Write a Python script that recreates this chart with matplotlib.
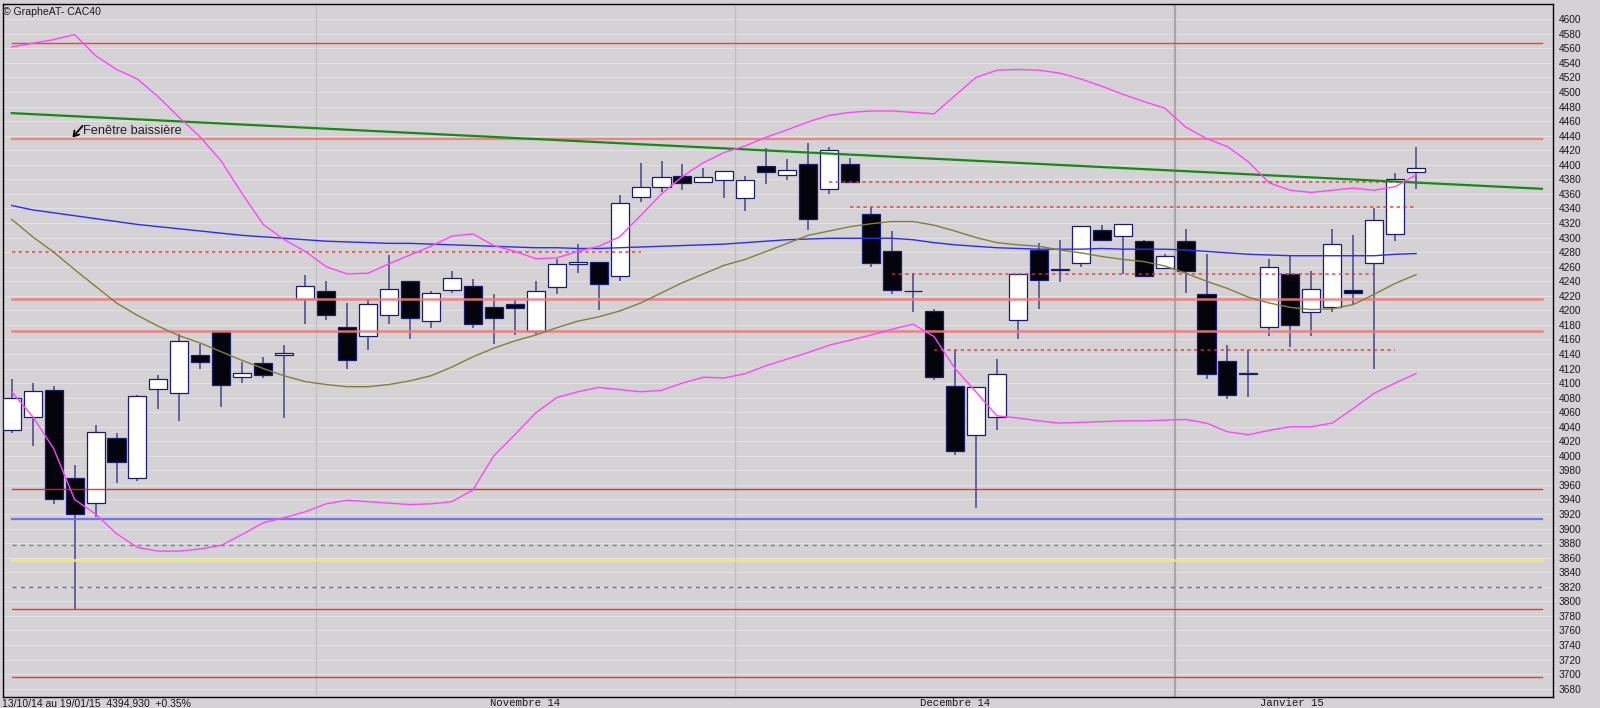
import numpy as np
import matplotlib
matplotlib.use('Agg')
import matplotlib.pyplot as plt

plt.rcParams['font.family'] = ['Liberation Sans', 'DejaVu Sans']

# daily candles, 13/10/14 -> 19/01/15 (index = trading day)
opens = [4035, 4054, 4091, 3969, 3935, 4024, 3970, 4092, 4086, 4138,
         4172, 4108, 4128, 4138, 4215, 4227, 4177, 4164, 4193, 4240,
         4185, 4228, 4233, 4204, 4209, 4171, 4232, 4264, 4266, 4247,
         4356, 4370, 4384, 4376, 4379, 4355, 4398, 4386, 4401, 4367,
         4401, 4333, 4281, 4227, 4199, 4096, 4028, 4053, 4187, 4283,
         4256, 4265, 4310, 4302, 4295, 4258, 4295, 4223, 4131, 4114,
         4177, 4250, 4197, 4205, 4228, 4265, 4305, 4390]
highs = [4106, 4100, 4096, 3988, 4042, 4031, 4084, 4111, 4168, 4153,
         4172, 4129, 4136, 4152, 4249, 4240, 4210, 4216, 4276, 4240,
         4227, 4254, 4243, 4222, 4214, 4240, 4270, 4291, 4266, 4358,
         4402, 4405, 4401, 4396, 4391, 4385, 4423, 4408, 4430, 4424,
         4410, 4342, 4309, 4251, 4202, 4145, 4095, 4133, 4250, 4292,
         4297, 4316, 4317, 4318, 4297, 4277, 4312, 4278, 4152, 4145,
         4271, 4274, 4254, 4312, 4304, 4341, 4389, 4425]
lows = [4031, 4014, 3934, 3790, 3916, 3963, 3966, 4064, 4048, 4119,
        4067, 4100, 4107, 4052, 4181, 4186, 4119, 4146, 4181, 4161,
        4175, 4224, 4176, 4154, 4166, 4168, 4223, 4251, 4201, 4240,
        4349, 4362, 4365, 4376, 4354, 4336, 4373, 4379, 4311, 4360,
        4376, 4260, 4223, 4197, 4104, 4001, 3928, 4035, 4160, 4202,
        4239, 4260, 4296, 4250, 4247, 4258, 4224, 4106, 4078, 4081,
        4165, 4150, 4165, 4198, 4208, 4120, 4295, 4367]
closes = [4080, 4089, 3940, 3920, 4033, 3991, 4082, 4106, 4158, 4129,
          4098, 4114, 4111, 4142, 4234, 4194, 4132, 4209, 4229, 4190,
          4224, 4245, 4181, 4189, 4203, 4227, 4263, 4267, 4236, 4348,
          4369, 4383, 4375, 4383, 4391, 4379, 4390, 4393, 4325, 4421,
          4376, 4265, 4228, 4226, 4109, 4006, 4094, 4113, 4250, 4242,
          4255, 4316, 4296, 4318, 4247, 4274, 4254, 4112, 4084, 4113,
          4260, 4180, 4229, 4291, 4224, 4324, 4380, 4395]

# indicators, one value per candle
upper_band = [4562, 4567, 4572, 4579, 4550, 4531, 4518, 4493, 4465, 4438,
              4405, 4360, 4318, 4297, 4281, 4260, 4250, 4251, 4264, 4276,
              4288, 4302, 4305, 4289, 4281, 4271, 4272, 4281, 4288, 4301,
              4330, 4360, 4384, 4403, 4417, 4426, 4438, 4448, 4459, 4468,
              4472, 4474, 4474, 4472, 4470, 4495, 4520, 4530, 4531, 4530,
              4526, 4518, 4508, 4497, 4487, 4478, 4452, 4436, 4425, 4404,
              4375, 4365, 4362, 4365, 4368, 4365, 4370, 4386]
lower_band = [4088, 4054, 4010, 3940, 3920, 3893, 3874, 3869, 3869, 3872,
              3877, 3892, 3908, 3915, 3923, 3934, 3939, 3937, 3935, 3933,
              3934, 3937, 3953, 4000, 4029, 4059, 4080, 4088, 4094, 4091,
              4088, 4090, 4100, 4108, 4107, 4113, 4124, 4133, 4142, 4152,
              4159, 4166, 4174, 4181, 4164, 4120, 4088, 4055, 4052, 4048,
              4045, 4046, 4047, 4048, 4048, 4049, 4050, 4045, 4033, 4029,
              4035, 4040, 4040, 4045, 4065, 4086, 4100, 4113]
ma_short = [4325, 4301, 4280, 4256, 4233, 4210, 4193, 4178, 4165, 4155,
            4143, 4131, 4120, 4110, 4102, 4098, 4095, 4095, 4098, 4103,
            4110, 4122, 4136, 4148, 4158, 4166, 4176, 4185, 4191, 4199,
            4210, 4224, 4238, 4250, 4262, 4270, 4281, 4292, 4303, 4309,
            4315, 4319, 4322, 4322, 4317, 4309, 4300, 4293, 4290, 4288,
            4283, 4279, 4274, 4270, 4267, 4261, 4251, 4240, 4230, 4218,
            4210, 4204, 4201, 4202, 4208, 4222, 4237, 4249]
ma_long = [4344, 4338, 4334, 4330, 4326, 4322, 4318, 4315, 4312, 4309,
           4306, 4303, 4301, 4299, 4297, 4295, 4294, 4293, 4292, 4292,
           4291, 4290, 4289, 4288, 4287, 4286, 4286, 4285, 4285, 4286,
           4287, 4288, 4289, 4290, 4291, 4293, 4295, 4297, 4298, 4299,
           4299, 4299, 4299, 4297, 4293, 4290, 4288, 4286, 4285, 4284,
           4284, 4284, 4285, 4284, 4284, 4284, 4283, 4281, 4279, 4277,
           4276, 4275, 4275, 4275, 4275, 4275, 4277, 4278]

# downtrend line
trend_x = [0, 73]
trend_y = [4471, 4367]

# full-width horizontal levels
levels = [4568, 4436, 4215, 4172, 3954, 3913, 3877, 3857, 3820, 3790, 3696]

# dashed gap levels: value, first and last candle
gap_values = [4280, 4376, 4342, 4250, 4145]
gap_start = [0, 39, 40, 42, 44]
gap_end = [30, 67, 67, 65, 66]

month_labels = ['Novembre 14', 'Decembre 14', 'Janvier 15']
month_pos = [24.5, 45, 61.1]
month_breaks = [14.5, 34.5, 55.5]

y_ticks = list(range(3680, 4601, 20))

BG = '#d5d2d5'
level_styles = [
    dict(color='#ff2a2a', lw=1.0, ls='-'),
    dict(color='#f07a7a', lw=1.6, ls='-'),
    dict(color='#f07a7a', lw=1.8, ls='-'),
    dict(color='#f07a7a', lw=1.8, ls='-'),
    dict(color='#e82020', lw=1.0, ls='-'),
    dict(color='#6a6af2', lw=1.6, ls='-'),
    dict(color='#3e9080', lw=1.0, ls=(0, (3, 3))),
    dict(color='#eeee6a', lw=2.0, ls='-'),
    dict(color='#4a64a8', lw=1.0, ls=(0, (3, 3))),
    dict(color='#ff2020', lw=1.0, ls='-'),
    dict(color='#ee2a2a', lw=1.0, ls='-'),
]


def main():
    o = np.array(opens)
    c = np.array(closes)
    x = np.arange(len(c))

    fig = plt.figure(figsize=(16, 7.08), dpi=100, facecolor=BG)
    ax = fig.add_axes([3 / 1600, 11 / 708, 1550 / 1600, 693 / 708], facecolor=BG)

    for yv in y_ticks:
        ax.axhline(yv, color='#e3e1e3', lw=0.8, zorder=0)
    for k, xb in enumerate(month_breaks):
        dark = k == len(month_breaks) - 1
        ax.axvline(xb, color='#a9a6a9' if dark else '#c2bfc2',
                   lw=1.6 if dark else 0.9, zorder=0.5)

    # candles
    ax.vlines(x, lows, highs, color='#45458a', lw=1.1, zorder=2)
    body_low = np.minimum(o, c)
    body_h = np.maximum(np.abs(c - o), 1.2)
    face = ['white' if cc > oo else '#04040c' for oo, cc in zip(o, c)]
    ax.bar(x, body_h, bottom=body_low, width=0.86, color=face,
           edgecolor='#1c1c6e', linewidth=0.9, zorder=3)

    # levels
    for val, st in zip(levels, level_styles):
        ax.plot([0, 73], [val, val], zorder=4, alpha=0.9, **st)
    for val, s, e in zip(gap_values, gap_start, gap_end):
        ax.plot([s, e], [val, val], color='#f02a2a', lw=1.2,
                ls=(0, (2, 2)), alpha=0.8, zorder=4)

    ax.plot(trend_x, trend_y, color='#158a15', lw=1.6, zorder=5)
    ax.plot(x, ma_long, color='#2a2aff', lw=1.0, zorder=5)
    ax.plot(x, ma_short, color='#80803a', lw=1.0, zorder=5)
    ax.plot(x, upper_band, color='#ff44ff', lw=1.0, zorder=5)
    ax.plot(x, lower_band, color='#ff44ff', lw=1.0, zorder=5)

    ax.text(3.42, 4447, 'Fenêtre baissière', fontsize=9.2, color='#202020',
            va='center', ha='left', zorder=6)
    ax.annotate('', xy=(2.9, 4437.5), xytext=(3.38, 4453.5), zorder=6,
                arrowprops=dict(arrowstyle='->,head_length=0.35,head_width=0.22',
                                color='black', lw=1.3, shrinkA=0, shrinkB=0))

    ax.set_xlim(-0.415, 73.53)
    ax.set_ylim(3668.5, 4621)
    ax.set_yticks(y_ticks)
    ax.yaxis.tick_right()
    ax.tick_params(axis='y', length=0, pad=4, labelsize=7.3, labelcolor='#1a1a1a')
    ax.set_xticks([])
    for sp in ax.spines.values():
        sp.set_color('black')
        sp.set_linewidth(1.0)

    fig.text(3 / 1600, 1 - 12.3 / 708, '© GrapheAT- CAC40', fontsize=7.6,
             color='#1a1a1a', va='center', ha='left')
    fig.text(2 / 1600, 1 - 703 / 708, '13/10/14 au 19/01/15  4394,930  +0.35%',
             fontsize=7.5, color='#1a1a1a', va='center', ha='left')
    for lab, pos in zip(month_labels, month_pos):
        xf = (11.7 + 20.96 * pos) / 1600
        fig.text(xf, 1 - 703 / 708, lab, fontsize=7.7, family='Liberation Mono',
                 color='#1a1a1a', va='center', ha='center')

    fig.savefig('out.png', dpi=100, facecolor=BG)


if __name__ == '__main__':
    main()
